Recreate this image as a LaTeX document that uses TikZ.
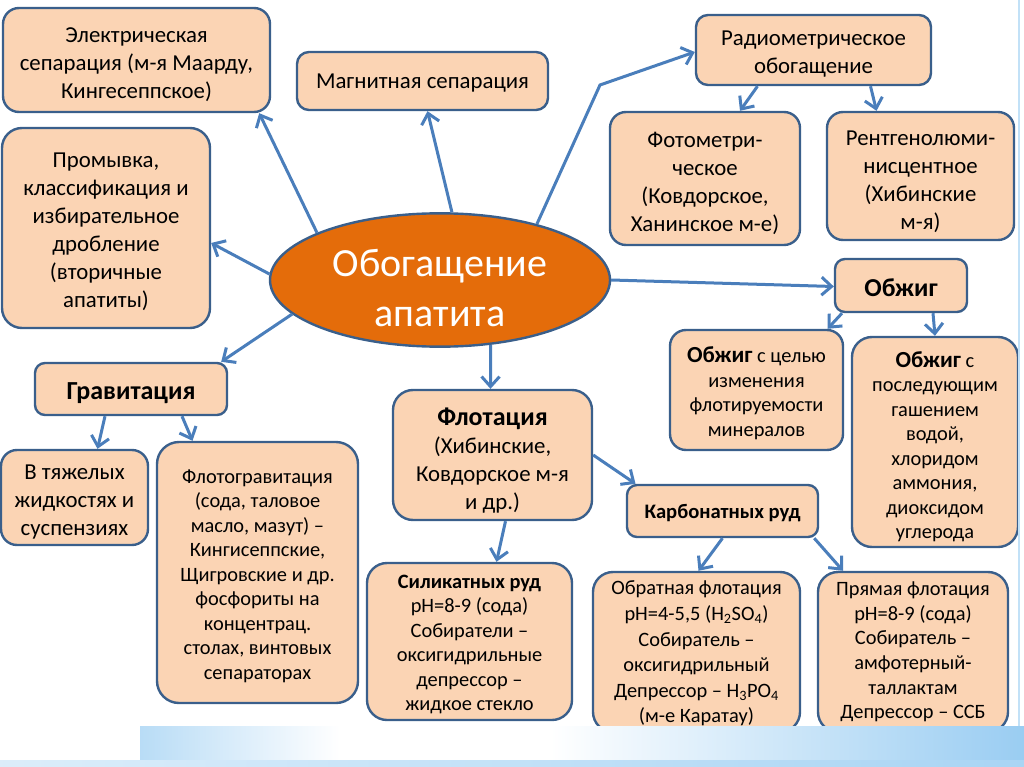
\documentclass[tikz,border=0pt]{standalone}
\usepackage{fontspec}
\setmainfont{Carlito}
\usepackage{xcolor}
\usepackage{tikz}
\usetikzlibrary{arrows.meta,shapes.geometric}

\definecolor{boxfill}{HTML}{FBD4B4}
\definecolor{boxline}{HTML}{3A5F8B}
\definecolor{arrowblue}{HTML}{4A7EBB}
\definecolor{coreorange}{HTML}{E46C0A}
\definecolor{bandblue}{HTML}{9ACDF2}

% invisible strut that pushes a box text down
\newcommand{\topgap}[1]{\rule{0pt}{#1}}

\begin{document}
\begin{tikzpicture}[x=1pt,y=-1pt,
      box/.style={draw=boxline,fill=boxfill,line width=2.4pt,rounded corners=16pt,align=center,inner sep=0pt,font=\fontsize{22.8}{28}\selectfont},
      small/.style={font=\fontsize{20.4}{24.5}\selectfont},
      arr/.style={-{Straight Barb[length=10pt,width=18pt]},line width=3pt,draw=arrowblue}]
    \useasboundingbox (0,0) rectangle (1024,767);
    % central ellipse
    \node[ellipse,draw=boxline,fill=coreorange,line width=2.4pt,minimum width=340,minimum height=130,inner sep=0pt,
          text=white,align=center,font=\fontsize{40}{50}\selectfont] (core) at (440,280) {\topgap{44pt}Обогащение\\апатита};
    % upper row
    \node[box,minimum width=267,minimum height=104] (elec) at (136.5,60) {\topgap{24pt}Электрическая\\сепарация (м-я Маарду,\\Кингесеппское)};
    \node[box,rounded corners=12pt,minimum width=251,minimum height=58] (magn) at (422.5,81) {\topgap{19pt}Магнитная сепарация};
    \node[box,rounded corners=12pt,minimum width=235,minimum height=70] (radio) at (813.5,50) {\topgap{23pt}Радиометрическое\\обогащение};
    \node[box,minimum width=190,minimum height=133] (photo) at (705,178.5) {\topgap{25pt}Фотометри-\\ческое\\(Ковдорское,\\Ханинское м-е)};
    \node[box,minimum width=187,minimum height=128] (xray) at (920.5,176) {\topgap{27pt}Рентгенолюми-\\нисцентное\\(Хибинские\\м-я)};
    \node[box,rounded corners=20pt,minimum width=208,minimum height=200] (wash) at (106,228) {\topgap{23pt}Промывка,\\классификация и\\избирательное\\дробление\\(вторичные\\апатиты)};
    % roasting
    \node[box,rounded corners=10pt,minimum width=132,minimum height=53,font=\fontsize{25.8}{28}\selectfont\bfseries] (roast) at (901,285.5) {\topgap{23pt}Обжиг};
    \node[box,small,minimum width=173,minimum height=120] (roastA) at (756.5,390) {\topgap{22pt}{\fontsize{23}{24.5}\selectfont\bfseries Обжиг} с целью\\изменения\\флотируемости\\минералов};
    \node[box,small,rounded corners=20pt,minimum width=166,minimum height=210] (roastB) at (935,442) {\topgap{25pt}{\fontsize{23}{24.5}\selectfont\bfseries Обжиг} с\\последующим\\гашением\\водой,\\хлоридом\\аммония,\\диоксидом\\углерода};
    % gravity
    \node[box,rounded corners=10pt,minimum width=192,minimum height=52,font=\fontsize{26}{28}\selectfont\bfseries] (grav) at (131,389) {\topgap{25pt}Гравитация};
    \node[box,minimum width=147,minimum height=95] (heavy) at (74.5,497.5) {\topgap{23pt}В тяжелых\\жидкостях и\\суспензиях};
    \node[box,small,rounded corners=22pt,minimum width=201,minimum height=261] (flograv) at (257.5,572.5) {\topgap{21pt}Флотогравитация\\(сода, таловое\\масло, мазут) –\\Кингисеппские,\\Щигровские и др.\\фосфориты на\\концентрац.\\столах, винтовых\\сепараторах};
    % flotation
    \node[box,rounded corners=20pt,minimum width=199,minimum height=130] (flot) at (492.5,455) {\topgap{28pt}{\fontsize{26}{28}\selectfont\bfseries Флотация}\\(Хибинские,\\Ковдорское м-я\\и др.)};
    \node[box,rounded corners=10pt,minimum width=191,minimum height=52,font=\fontsize{20.6}{24}\selectfont\bfseries] (carb) at (722.5,511) {\topgap{18pt}Карбонатных руд};
    \node[box,small,rounded corners=20pt,minimum width=205,minimum height=157] (silic) at (469.5,641.5) {\topgap{19pt}\textbf{Силикатных руд}\\pH=8-9 (сода)\\Собиратели –\\оксигидрильные\\депрессор –\\жидкое стекло};
    \node[box,small,rounded corners=20pt,minimum width=207,minimum height=160,font=\fontsize{20.4}{25.6}\selectfont] (reverse) at (696.5,652) {\topgap{17pt}Обратная флотация\\pH=4-5,5 (H\textsubscript{2}SO\textsubscript{4})\\Собиратель –\\оксигидрильный\\Депрессор – H\textsubscript{3}PO\textsubscript{4}\\(м-е Каратау)};
    \node[box,small,rounded corners=20pt,minimum width=190,minimum height=160,font=\fontsize{20.4}{24.6}\selectfont] (direct) at (913,652) {Прямая флотация\\pH=8-9 (сода)\\Собиратель –\\амфотерный-\\таллактам\\Депрессор – ССБ};
    % arrows from the centre
    \coordinate (kink) at (600,85);
    \draw[arr] (core.159) -- ([xshift=-12pt]elec.south east);
    \draw[arr] (core.80) -- ([xshift=5pt]magn.south);
    \draw[arr] (core.30) -- (kink) -- ([yshift=-2pt]radio.west);
    \draw[arr] (core.178) -- ([yshift=-15pt]wash.east);
    \draw[arr] (core.193) -- ([xshift=-7pt]grav.north east);
    \draw[arr] (core.308) -- ([xshift=-2pt]flot.north);
    \draw[arr] (core.east) -- ([yshift=-1pt]roast.west);
    % second level
    \draw[arr] ([xshift=-56pt]radio.south) -- ([xshift=35pt]photo.north);
    \draw[arr] ([xshift=57pt]radio.south) -- ([xshift=-44pt]xray.north);
    \draw[arr] ([xshift=-59pt]roast.south) -- ([xshift=71pt]roastA.north);
    \draw[arr] ([xshift=32pt]roast.south) -- (roastB.north);
    \draw[arr] ([xshift=-26pt]grav.south) -- ([xshift=23pt]heavy.north);
    \draw[arr] ([xshift=51pt]grav.south) -- ([xshift=-65pt]flograv.north);
    \draw[arr] ([xshift=13pt]flot.south) -- ([xshift=27pt]silic.north);
    \draw[arr] (flot.east) -- ([xshift=-87pt]carb.north);
    \draw[arr] (carb.south) -- ([xshift=2pt]reverse.north);
    \draw[arr] ([xshift=-5pt]carb.south east) -- ([xshift=-70pt]direct.north);
    % slide decoration
    \draw[bandblue!60,line width=2pt] (1019,0) -- (1019,726);
    \fill[white] (0,726) rectangle (140,760);
    \shade[left color=bandblue!70,right color=white] (140,726) rectangle (340,760);
    \fill[white] (339,726) rectangle (551,760);
    \shade[left color=white,right color=bandblue] (550,726) rectangle (1024,760);
    \shade[left color=bandblue!35,right color=bandblue!85] (0,760) rectangle (1024,767);
\end{tikzpicture}
\end{document}
